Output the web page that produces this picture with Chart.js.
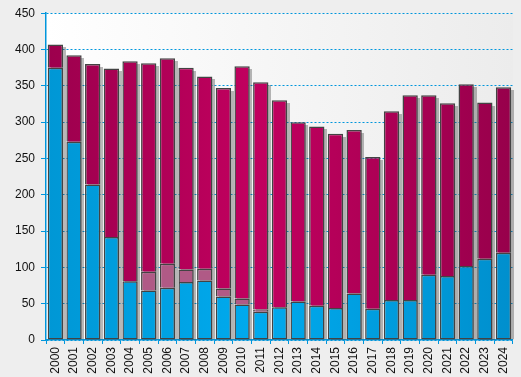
<!DOCTYPE html>
<html><head><meta charset="utf-8">
<script src="https://cdn.jsdelivr.net/npm/chart.js@4/dist/chart.umd.min.js"></script>
<style>html,body{margin:0;padding:0;background:#eeeeee;}#wrap{width:521px;height:377px;}</style>
</head><body><div id="wrap"><canvas id="c" width="521" height="377"></canvas></div>
<script>
const years = ['2000','2001','2002','2003','2004','2005','2006','2007','2008','2009','2010','2011','2012','2013','2014','2015','2016','2017','2018','2019','2020','2021','2022','2023','2024'];
const blueValues = [375,273,214,142,81,68,72,80,82,60,49,39,45,53,47,44,64,43,55,55,90,88,102,112,120];
const mauveValues = [null,null,null,null,null,26,33,17,16,11,8,3,null,null,null,null,null,null,null,null,null,null,null,null,null];
const topValues = [32,119,166,232,303,287,283,278,265,276,320,313,285,247,247,240,225,209,260,282,247,238,250,215,228];
const yTicks = [0,50,100,150,200,250,300,350,400,450];

const AXIS_BLUE = '#0096dc';
function hGrad(c0, c1, c2) {
  return function(ctx) {
    const ch = ctx.chart, ca = ch.chartArea;
    if (!ca) return c1;
    const g = ch.ctx.createLinearGradient(ca.left, 0, ca.right, 0);
    g.addColorStop(0, c0); g.addColorStop(0.45, c1); g.addColorStop(1, c2);
    return g;
  };
}
const bgPlugin = {
  id: 'bg',
  beforeDraw(chart) {
    const {ctx, chartArea: ca, width, height} = chart;
    ctx.save();
    ctx.fillStyle = '#eeeeee';
    ctx.fillRect(0, 0, width, height);
    const g = ctx.createLinearGradient(ca.left, 0, ca.right, 0);
    g.addColorStop(0, '#ffffff'); g.addColorStop(1, '#ececec');
    ctx.fillStyle = g;
    ctx.fillRect(ca.left, ca.top, ca.right - ca.left, ca.bottom - ca.top);
    ctx.restore();
  }
};
const shadowPlugin = {
  id: 'shadow',
  beforeDatasetsDraw(chart) {
    const ctx = chart.ctx;
    const metas = chart.getSortedVisibleDatasetMetas();
    const n = chart.data.labels.length;
    ctx.save();
    ctx.fillStyle = 'rgba(60,60,60,0.36)';
    for (let i = 0; i < n; i++) {
      let top = Infinity, base = -Infinity, x = 0, w = 0;
      metas.forEach(m => {
        const el = m.data[i];
        if (!el || chart.data.datasets[m.index].data[i] == null) return;
        top = Math.min(top, el.y); base = Math.max(base, el.base);
        x = el.x; w = el.width;
      });
      if (top === Infinity) continue;
      ctx.fillRect(Math.round(x - w / 2) + 3, Math.round(top) + 3, Math.round(w), base - top - 3);
    }
    ctx.restore();
  }
};
const common = { borderColor: '#434343', borderSkipped: false, barPercentage: 0.82, categoryPercentage: 1.0 };
const fullBorder = { top: 1.5, left: 1.5, right: 1.5, bottom: 1.5 };
const openBottom = { top: 1.5, left: 1.5, right: 1.5, bottom: 0 };
new Chart(document.getElementById('c'), {
  type: 'bar',
  data: {
    labels: years,
    datasets: [
      Object.assign({ label: 'A', data: blueValues, borderWidth: fullBorder, backgroundColor: hGrad('#0097d5', '#00aaee', '#008fcd') }, common),
      Object.assign({ label: 'B', data: mauveValues, borderWidth: openBottom, backgroundColor: '#b05a86' }, common),
      Object.assign({ label: 'C', data: topValues, borderWidth: openBottom, backgroundColor: hGrad('#9c004d', '#c2005f', '#97004b') }, common)
    ]
  },
  options: {
    responsive: false, animation: false, devicePixelRatio: 1,
    layout: { padding: { top: 12, right: 4, left: 0, bottom: 0 } },
    plugins: { legend: { display: false }, tooltip: { enabled: false } },
    scales: {
      x: {
        stacked: true,
        grid: { display: true, drawOnChartArea: false, drawTicks: true, tickLength: 4, color: AXIS_BLUE, lineWidth: 1, offset: true },
        border: { display: true, color: AXIS_BLUE, width: 1.5 },
        ticks: { minRotation: 90, maxRotation: 90, autoSkip: false, padding: 3, color: '#111', font: { family: 'Liberation Sans', size: 12 } },
        afterFit(s) { s.height = 37; }
      },
      y: {
        stacked: true, min: 0, max: 450,
        afterBuildTicks(s) { s.ticks = yTicks.map(v => ({ value: v })); },
        grid: { display: true, drawOnChartArea: true, drawTicks: true, tickLength: 5, color: AXIS_BLUE, lineWidth: 1 },
        border: { display: true, color: AXIS_BLUE, width: 1.5, dash: [2, 2] },
        ticks: { padding: 6, color: '#111', font: { family: 'Liberation Sans', size: 12 } },
        afterFit(s) { s.width = 46; }
      }
    }
  },
  plugins: [bgPlugin, shadowPlugin]
});
</script></body></html>
